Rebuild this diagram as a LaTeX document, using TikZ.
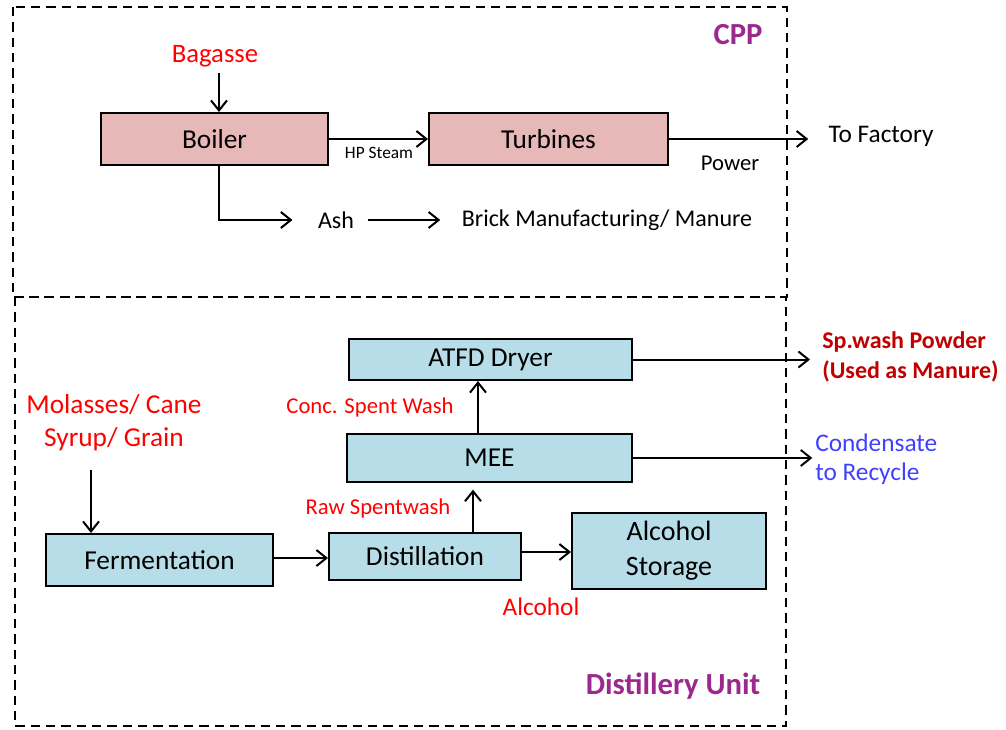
\documentclass[tikz,border=0pt]{standalone}
\usepackage{fontspec}
\setmainfont{Carlito}
\usetikzlibrary{arrows.meta,calc}
\definecolor{pinkfill}{RGB}{230,185,184}
\definecolor{bluefill}{RGB}{183,222,232}
\definecolor{myred}{RGB}{255,0,0}
\definecolor{darkred}{RGB}{192,0,0}
\definecolor{myblue}{RGB}{64,64,255}
\definecolor{mypurple}{RGB}{155,40,140}
\tikzset{
  box/.style={draw=black, line width=1.5pt, inner sep=0pt, align=center, font=\fontsize{20.5}{25}\selectfont},
  pinkbox/.style={box, fill=pinkfill},
  bluebox/.style={box, fill=bluefill},
  lbl/.style={inner sep=0pt, align=center},
  arr/.style={line width=1.5pt, -{Straight Barb[length=7.5pt,width=12pt,line width=1.5pt]}},
  frame/.style={line width=1.6pt, dash pattern=on 7pt off 4.5pt},
}
\begin{document}
\begin{tikzpicture}[x=0.75pt,y=-0.75pt]
\useasboundingbox (0,0) rectangle (1006,729);
% frames
\draw[frame] (13,7) rectangle (787,297);
\draw[frame] (15,297) rectangle (786,726);
\node[lbl, text=mypurple, font=\fontsize{23}{28}\selectfont\bfseries] (cpp) at (738,35) {CPP};
\node[lbl, text=mypurple, font=\fontsize{23}{28}\selectfont\bfseries] (du) at (673,686) {Distillery Unit};

% CPP
\node[pinkbox, minimum width=227*0.75pt, minimum height=52*0.75pt] (boiler) at (214.5,139) {Boiler};
\node[pinkbox, minimum width=239*0.75pt, minimum height=52*0.75pt] (turb) at (548.5,139) {Turbines};
\node[lbl, text=myred, font=\fontsize{20}{25}\selectfont] (bag) at (215,56) {Bagasse};
\node[lbl, font=\fontsize{13}{16}\selectfont] (hps) at (379,153) {HP Steam};
\node[lbl, font=\fontsize{19}{24}\selectfont] (tofac) at (881,136) {To Factory};
\node[lbl, font=\fontsize{17}{21}\selectfont] (power) at (730,163) {Power};
\node[lbl, font=\fontsize{18}{22}\selectfont] (ash) at (336,220) {Ash};
\node[lbl, font=\fontsize{18}{22}\selectfont] (brick) at (607,220) {Brick Manufacturing/ Manure};

\draw[arr] (bag.south) ++(4,6) coordinate (bagtop) -- (bagtop |- boiler.north);
\draw[arr] (boiler.east) -- (turb.west);
\draw[arr, shorten >=15pt] (turb.east) -- (turb.east -| tofac.west);
\draw[arr, shorten >=19pt] ([xshift=4.5*0.75pt]boiler.south) |- (ash.west);
\draw[arr, shorten <=10pt, shorten >=16pt] (ash.east) -- (brick.west);

% Distillery
\node[bluebox, minimum width=283*0.75pt, minimum height=41*0.75pt] (atfd) at (490.5,359.5) {ATFD Dryer};
\node[bluebox, minimum width=285*0.75pt, minimum height=48*0.75pt] (mee) at (489.5,458) {MEE};
\node[bluebox, minimum width=227*0.75pt, minimum height=52*0.75pt] (ferm) at (159.5,560) {Fermentation};
\node[bluebox, minimum width=192*0.75pt, minimum height=47*0.75pt] (dist) at (425,556.5) {Distillation};
\node[bluebox, minimum width=194*0.75pt, minimum height=76*0.75pt, font=\fontsize{21}{26.5}\selectfont] (alc) at (669,551) {Alcohol\\Storage};

\node[lbl, text=myred, font=\fontsize{20.5}{25}\selectfont] (mol) at (114,423) {Molasses/ Cane\\Syrup/ Grain};
\node[lbl, text=myred, font=\fontsize{17}{21}\selectfont] (conc) at (370,407) {Conc. Spent Wash};
\node[lbl, text=myred, font=\fontsize{17}{21}\selectfont] (raw) at (378,508) {Raw Spentwash};
\node[lbl, text=myred, font=\fontsize{19}{23}\selectfont] (alcl) at (541,607) {Alcohol};
\node[lbl, text=darkred, align=left, anchor=west, font=\fontsize{18}{22.5}\selectfont\bfseries] (spw) at (822,357) {Sp.wash Powder\\(Used as Manure)};
\node[lbl, text=myblue, align=left, anchor=west, font=\fontsize{19}{22}\selectfont] (cond) at (815,459) {Condensate\\to Recycle};

\coordinate (molx) at ($(ferm.north west)+(46,0)$);
\draw[arr, shorten <=14pt] (molx |- mol.south) -- (molx);
\draw[arr] (ferm.east |- 0,558) -- (dist.west |- 0,558);
\draw[arr] (dist.east |- 0,552) -- (alc.west |- 0,552);
\draw[arr, shorten >=5pt] (dist.north -| 473,0) -- (mee.south -| 473,0);
\draw[arr] (mee.north -| 478,0) -- (atfd.south -| 478,0);
\draw[arr, shorten >=9pt] (atfd.east) -- (atfd.east -| spw.west);
\draw[arr, shorten >=2pt] (mee.east) -- (mee.east -| cond.west);
\end{tikzpicture}
\end{document}
